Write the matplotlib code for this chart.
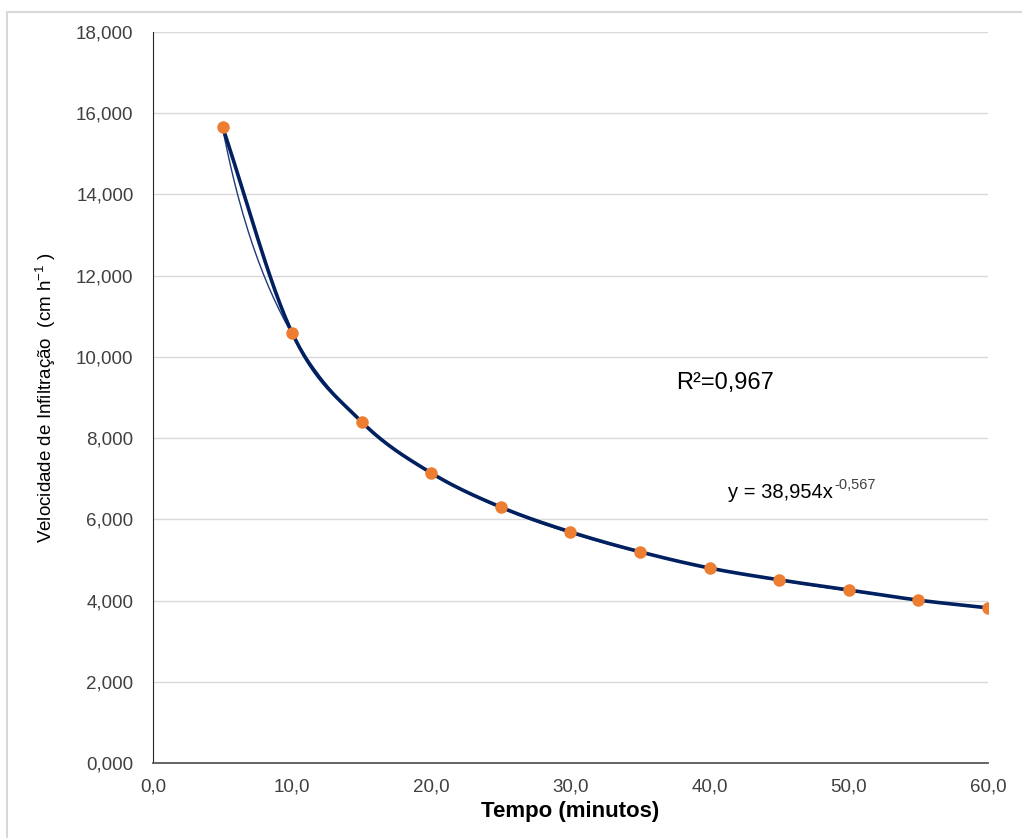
import numpy as np
import matplotlib
matplotlib.use("Agg")
import matplotlib.pyplot as plt
from matplotlib.patches import Rectangle

# dados (cm/h)
tempo = [5, 10, 15, 20, 25, 30, 35, 40, 45, 50, 55, 60]
velocidade = [15.66, 10.59, 8.40, 7.14, 6.30, 5.69, 5.20, 4.80, 4.51, 4.26, 4.01, 3.82]
# linha de tendencia (potencia) tal como impressa no grafico
coef_a = 38.954
coef_b = -0.567
r2_txt = "R²=0,967"
eq_base = "y = 38,954x"
eq_exp = "-0,567"

x_ticks = np.arange(0, 61, 10)
y_ticks = np.arange(0, 19, 2)

plt.rcParams['font.family'] = ['Liberation Sans', 'DejaVu Sans']


def smooth_line(xs, ys, n=30):
    # suavizacao tipo Catmull-Rom (como a "linha suavizada" do Excel)
    xs = np.asarray(xs, float)
    ys = np.asarray(ys, float)
    px = np.concatenate([[2*xs[0]-xs[1]], xs, [2*xs[-1]-xs[-2]]])
    py = np.concatenate([[2*ys[0]-ys[1]], ys, [2*ys[-1]-ys[-2]]])
    ox, oy = [], []
    t = np.linspace(0, 1, n)
    for i in range(1, len(px)-2):
        for p, o in ((px, ox), (py, oy)):
            p0, p1, p2, p3 = p[i-1], p[i], p[i+1], p[i+2]
            o.extend(0.5*((2*p1) + (-p0+p2)*t + (2*p0-5*p1+4*p2-p3)*t**2 + (-p0+3*p1-3*p2+p3)*t**3))
    return np.array(ox), np.array(oy)


fig = plt.figure(figsize=(10.22, 8.38), dpi=100)
ax = fig.add_axes([0.1497, 0.0895, 0.817, 0.8723])

# moldura cinza do grafico
fig.patches.append(Rectangle((0.007, -0.01), 1.2, 0.996, transform=fig.transFigure,
                             fill=False, edgecolor='#d9d9d9', linewidth=1.5))

# serie (linha suavizada, grossa)
sx, sy = smooth_line(tempo, velocidade)
ax.plot(sx, sy, color='#002060', linewidth=2.6, zorder=4)

# tendencia potencia (fina)
xt = np.linspace(min(tempo), max(tempo), 300)
ax.plot(xt, coef_a*xt**coef_b, color='#1F3A78', linewidth=1.0, zorder=3)

ax.plot(tempo, velocidade, 'o', color='#ED7D31', markersize=9, markeredgewidth=0, zorder=5)

ax.set_xlim(0, 60)
ax.set_ylim(0, 18)
ax.set_xticks(x_ticks)
ax.set_yticks(y_ticks)
ax.set_xticklabels([f"{v:.1f}".replace('.', ',') for v in x_ticks], fontsize=13.5, color='#404040')
ax.set_yticklabels([f"{v:.3f}".replace('.', ',') for v in y_ticks], fontsize=13.5, color='#404040')
ax.tick_params(axis='x', length=0, pad=11)
ax.tick_params(axis='y', length=0, pad=14)
ax.grid(axis='y', color='#d9d9d9', linewidth=1)
ax.set_axisbelow(True)
for s in ['top', 'right']:
    ax.spines[s].set_visible(False)
ax.spines['left'].set_color('#262626')
ax.spines['bottom'].set_color('#595959')
ax.spines['bottom'].set_linewidth(1.3)

ax.set_xlabel("Tempo (minutos)", fontsize=16, fontweight='bold', labelpad=4)
ax.set_ylabel("Velocidade de Infiltração  (cm h$^{\\mathregular{-1}}$ )", fontsize=13.5, labelpad=13)

ax.text(41.1, 9.36, r2_txt, fontsize=17, ha='center', va='center')
t1 = ax.text(41.3, 6.65, eq_base, fontsize=14.5, ha='left', va='center')
ax.annotate(eq_exp, xy=(1, 0.55), xycoords=t1, xytext=(1, 0), textcoords='offset points',
            fontsize=10.5, color='#404040', ha='left', va='bottom')

fig.savefig("out.png", dpi=100)
